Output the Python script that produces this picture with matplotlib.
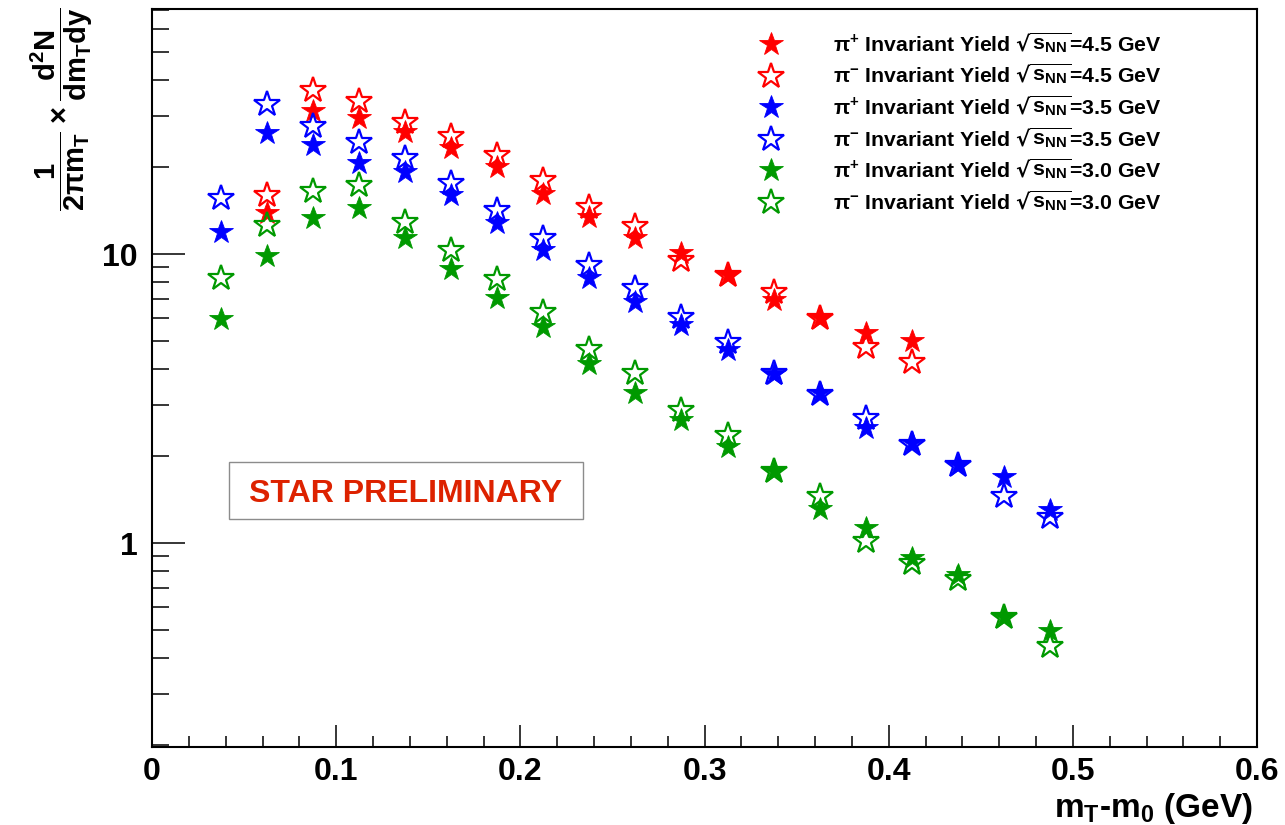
import matplotlib
matplotlib.use("Agg")
import matplotlib.pyplot as plt
from matplotlib.ticker import FixedLocator, NullFormatter, MultipleLocator
from matplotlib.patches import Rectangle

plt.rcParams['font.family'] = ['Liberation Sans', 'DejaVu Sans']
plt.rcParams['font.weight'] = 'bold'
plt.rcParams['mathtext.default'] = 'regular'

# m_T - m_0 bin centres (GeV)
mt_45 = [0.0625, 0.0875, 0.1125, 0.1375, 0.1625, 0.1875, 0.2125, 0.2375,
         0.2625, 0.2875, 0.3125, 0.3375, 0.3625, 0.3875, 0.4125]
mt_35 = [0.0375, 0.0625, 0.0875, 0.1125, 0.1375, 0.1625, 0.1875, 0.2125,
         0.2375, 0.2625, 0.2875, 0.3125, 0.3375, 0.3625, 0.3875, 0.4125,
         0.4375, 0.4625, 0.4875]
mt_30 = list(mt_35)

# invariant yields
pip_45 = [13.9, 31.4, 29.5, 26.4, 23.2, 20.0, 16.2, 13.4, 11.4, 10.1, 8.46,
          6.94, 6.01, 5.33, 5.00]
pim_45 = [16.0, 36.9, 34.0, 28.6, 25.6, 22.0, 18.0, 14.5, 12.5, 9.53, 8.46,
          7.39, 6.01, 4.77, 4.24]
pip_35 = [11.9, 26.2, 23.8, 20.6, 19.2, 16.0, 12.8, 10.3, 8.26, 6.83, 5.68,
          4.66, 3.85, 3.31, 2.51, 2.22, 1.87, 1.70, 1.30]
pim_35 = [15.7, 33.2, 27.7, 24.4, 21.5, 17.6, 14.2, 11.4, 9.16, 7.63, 6.06,
          4.97, 3.88, 3.28, 2.71, 2.21, 1.87, 1.45, 1.23]
pip_30 = [5.96, 9.84, 13.3, 14.4, 11.4, 8.88, 7.05, 5.59, 4.17, 3.31, 2.67,
          2.15, 1.77, 1.31, 1.13, 0.891, 0.778, 0.557, 0.498]
pim_30 = [8.26, 12.6, 16.6, 17.3, 12.9, 10.3, 8.20, 6.30, 4.70, 3.88, 2.89,
          2.37, 1.77, 1.45, 1.02, 0.856, 0.754, 0.557, 0.442]

x_ticks = [0.0, 0.1, 0.2, 0.3, 0.4, 0.5, 0.6]
x_tick_labels = ['0', '0.1', '0.2', '0.3', '0.4', '0.5', '0.6']
y_ticks = [1, 10]
y_tick_labels = ['1', '10']

labels = [
    r"$\pi^{+}$ Invariant Yield $\sqrt{s_{NN}}$=4.5 GeV",
    r"$\pi^{-}$ Invariant Yield $\sqrt{s_{NN}}$=4.5 GeV",
    r"$\pi^{+}$ Invariant Yield $\sqrt{s_{NN}}$=3.5 GeV",
    r"$\pi^{-}$ Invariant Yield $\sqrt{s_{NN}}$=3.5 GeV",
    r"$\pi^{+}$ Invariant Yield $\sqrt{s_{NN}}$=3.0 GeV",
    r"$\pi^{-}$ Invariant Yield $\sqrt{s_{NN}}$=3.0 GeV",
]

RED, BLUE, GREEN = '#ff0000', '#0000ff', '#009900'

W, H = 1285, 825
fig = plt.figure(figsize=(W / 100, H / 100), dpi=100)
ax = fig.add_axes([152 / W, 1 - 747 / H, (1257 - 152) / W, (747 - 9) / H])

series = [
    (mt_45, pip_45, RED, True),
    (mt_45, pim_45, RED, False),
    (mt_35, pip_35, BLUE, True),
    (mt_35, pim_35, BLUE, False),
    (mt_30, pip_30, GREEN, True),
    (mt_30, pim_30, GREEN, False),
]

handles = []
for (x, y, c, filled), lab in zip(series, labels):
    if filled:
        h, = ax.plot(x, y, ls='none', marker='*', ms=17.5, mfc=c, mec=c,
                     mew=0.6, label=lab, zorder=3)
    else:
        h, = ax.plot(x, y, ls='none', marker='*', ms=19, mfc='none', mec=c,
                     mew=1.6, label=lab, zorder=4)
    handles.append(h)

ax.set_yscale('log')
ax.set_xlim(0, 0.6)
ax.set_ylim(0.197, 70.5)

ax.set_xticks(x_ticks)
ax.set_xticklabels(x_tick_labels)
ax.xaxis.set_minor_locator(MultipleLocator(0.02))
ax.yaxis.set_major_locator(FixedLocator(y_ticks))
ax.set_yticklabels(y_tick_labels)
minor_y = [v * d for d in (0.1, 1, 10) for v in range(2, 10)]
ax.yaxis.set_minor_locator(FixedLocator(minor_y))
ax.yaxis.set_minor_formatter(NullFormatter())

ax.tick_params(which='both', direction='in', top=False, right=False,
               width=1.1, labelsize=23)
ax.tick_params(axis='x', which='major', length=16, pad=7)
ax.tick_params(axis='x', which='minor', length=8)
ax.tick_params(axis='y', which='major', length=24, pad=10)
ax.tick_params(axis='y', which='minor', length=12)
for s in ax.spines.values():
    s.set_linewidth(1.5)

leg = ax.legend(handles, labels, loc='upper left',
                bbox_to_anchor=(749.5 / W, 1 - 30.5 / H),
                bbox_transform=fig.transFigure, frameon=False,
                fontsize=15.3, handlelength=2.0, handletextpad=1.95,
                labelspacing=0.31, borderpad=0, borderaxespad=0)

# preliminary box
ax.add_patch(Rectangle((229 / W, 1 - 519 / H), (583 - 229) / W, (519 - 462) / H,
                       transform=fig.transFigure, facecolor='white',
                       edgecolor='#8c8c8c', lw=1.0, clip_on=False, zorder=2))
ax.text(406 / W, 1 - 502 / H, 'STAR PRELIMINARY', transform=fig.transFigure,
        ha='center', va='baseline', color='#dd2200', fontsize=23,
        fontweight='bold', zorder=2.5)

fig.text(62 / W, 1 - 109 / H,
         r"$\dfrac{1}{2\pi m_{T}}\times\dfrac{d^{2}N}{dm_{T}dy}$",
         rotation=90, ha='center', va='center', fontsize=21)
fig.text(1253 / W, 1 - 817 / H, r"m$_{T}$-m$_{0}$ (GeV)",
         ha='right', va='baseline', fontsize=24)

fig.savefig('out.png', dpi=100)
